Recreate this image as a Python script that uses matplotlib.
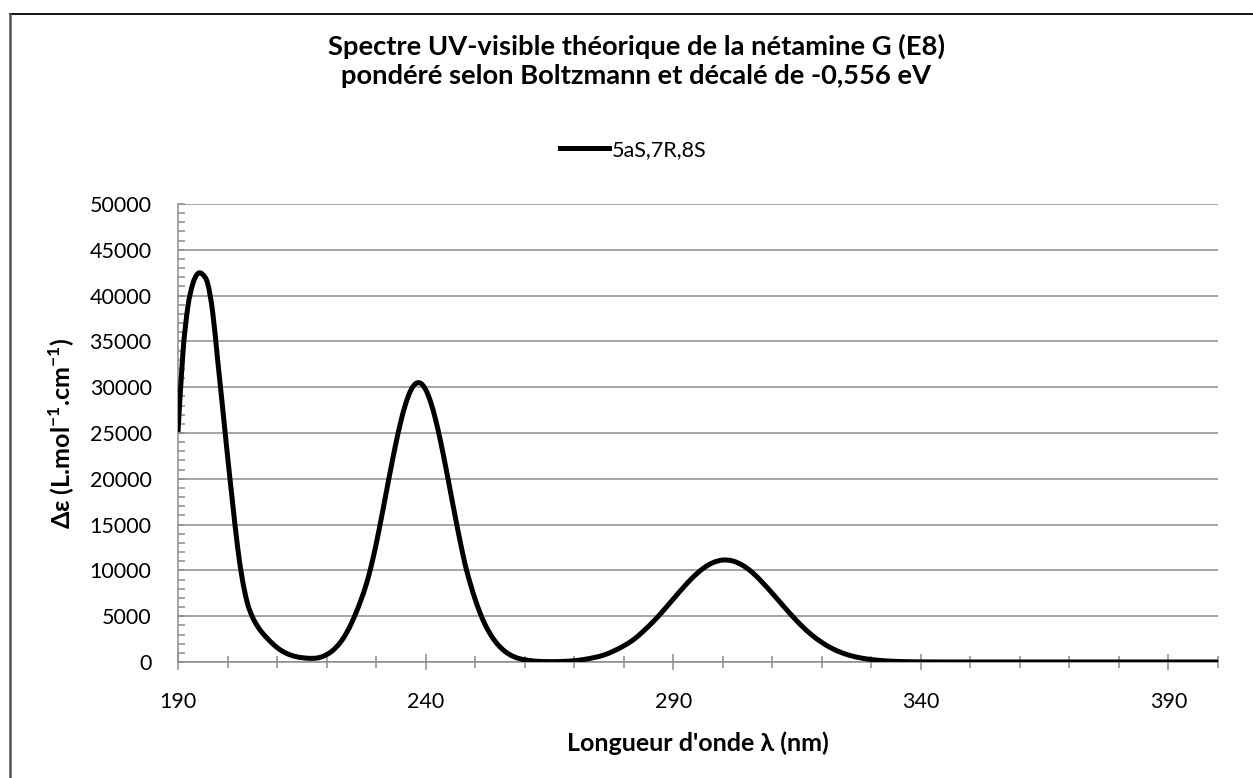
import matplotlib
matplotlib.use("Agg")
import matplotlib.pyplot as plt
from matplotlib.lines import Line2D
from matplotlib.path import Path
from matplotlib.patches import PathPatch
from matplotlib.ticker import MultipleLocator, FixedLocator

plt.rcParams['font.family'] = ['Lato', 'DejaVu Sans']
plt.rcParams['mathtext.fontset'] = 'custom'
plt.rcParams['mathtext.rm'] = 'Lato'
plt.rcParams['mathtext.bf'] = 'Lato:bold'

# Boltzmann-weighted theoretical spectrum, conformer 5aS,7R,8S
wavelength_nm = [
    190, 191, 192, 193, 194, 195, 196, 197, 198, 199,
    200, 201, 202, 203, 204, 205, 206, 207, 208, 209,
    210, 211, 212, 213, 214, 215, 216, 217, 218, 219,
    220, 221, 222, 223, 224, 225, 226, 227, 228, 229,
    230, 231, 232, 233, 234, 235, 236, 237, 238, 239,
    240, 241, 242, 243, 244, 245, 246, 247, 248, 249,
    250, 251, 252, 253, 254, 255, 256, 257, 258, 259,
    260, 262, 264, 266, 268, 270, 272, 274, 276, 278,
    280, 282, 284, 286, 288, 290, 292, 294, 296, 298,
    300, 302, 304, 306, 308, 310, 312, 314, 316, 318,
    320, 322, 324, 326, 328, 330, 332, 334, 336, 338,
    340, 345, 350, 370, 400,
]
delta_epsilon = [
    25100, 33800, 38800, 41300, 42400, 42300, 41300, 38200, 33000, 27800,
    22500, 17500, 12700, 9000, 6450, 4950, 3950, 3200, 2600, 2050,
    1580, 1200, 920, 710, 565, 475, 420, 400, 430, 560,
    800, 1150, 1650, 2300, 3150, 4200, 5450, 6850, 8450, 10450,
    12850, 15540, 18360, 21180, 23870, 26270, 28240, 29650, 30390, 30430,
    29750, 28400, 26490, 24130, 21460, 18640, 15810, 13100, 10600, 8600,
    6850, 5350, 4100, 3100, 2290, 1660, 1170, 800, 540, 360,
    240, 100, 50, 40, 70, 140, 280, 480, 760, 1210,
    1760, 2450, 3380, 4430, 5610, 6870, 8110, 9260, 10200, 10840,
    11130, 11030, 10560, 9760, 8690, 7500, 6260, 5040, 3910, 2940,
    2140, 1500, 1020, 670, 430, 270, 160, 90, 50, 28,
    15, 3, 0, 0, 0,
]
series_label = "5aS,7R,8S"

x_major = [190, 240, 290, 340, 390]
y_major = list(range(0, 50001, 5000))


def smoothed_path(xs, ys):
    """Catmull-Rom style smoothed line through the points, as cubic Bezier segments."""
    pts = list(zip(xs, ys))
    n = len(pts)
    verts = [pts[0]]
    codes = [Path.MOVETO]
    for i in range(n - 1):
        p0 = pts[i - 1] if i > 0 else pts[i]
        p1 = pts[i]
        p2 = pts[i + 1]
        p3 = pts[i + 2] if i + 2 < n else pts[i + 1]
        c1 = (p1[0] + (p2[0] - p0[0]) / 6, p1[1] + (p2[1] - p0[1]) / 6)
        c2 = (p2[0] - (p3[0] - p1[0]) / 6, p2[1] - (p3[1] - p1[1]) / 6)
        verts += [c1, c2, p2]
        codes += [Path.CURVE4] * 3
    return Path(verts, codes)


W, H = 1253, 778
fig = plt.figure(figsize=(W / 100, H / 100), dpi=100)
fig.patch.set_facecolor('white')

ax = fig.add_axes([178 / W, 1 - 662 / H, (1218 - 178) / W, (662 - 204) / H])
curve = PathPatch(smoothed_path(wavelength_nm, delta_epsilon), fill=False,
                  edgecolor='black', lw=3.6, joinstyle='round', capstyle='butt',
                  zorder=3)
ax.add_patch(curve)
legend_handle = Line2D([], [], color='black', lw=3.6, label=series_label)

ax.set_xlim(190, 400)
ax.set_ylim(0, 50000)

grid_c = '#8c8c8c'
ax.xaxis.set_major_locator(FixedLocator(x_major))
ax.xaxis.set_minor_locator(MultipleLocator(10))
ax.yaxis.set_major_locator(FixedLocator(y_major))
ax.yaxis.set_minor_locator(MultipleLocator(1000))
ax.yaxis.grid(True, which='major', color=grid_c, lw=1.1)
ax.set_axisbelow(True)

for side in ('top', 'right'):
    ax.spines[side].set_visible(False)
for side in ('left', 'bottom'):
    ax.spines[side].set_color(grid_c)
    ax.spines[side].set_linewidth(1.1)

ax.tick_params(axis='x', which='major', direction='inout', length=11,
               width=1.1, color=grid_c, labelsize=15.5, pad=16)
ax.tick_params(axis='x', which='minor', direction='inout', length=9,
               width=1.1, color=grid_c)
ax.tick_params(axis='y', which='major', direction='in', length=5,
               width=1.1, color=grid_c, labelsize=15.5, pad=19)
ax.tick_params(axis='y', which='minor', direction='in', length=5,
               width=1.1, color=grid_c)
ax.set_xticklabels([str(v) for v in x_major])
ax.set_yticklabels([str(v) for v in y_major])

fig.text(698 / W, 1 - 743 / H, "Longueur d'onde λ (nm)", ha='center', va='center',
         fontsize=18, fontweight='bold')
fig.text(62 / W, 1 - 433 / H, r"Δε (L.mol$^{\mathbf{-1}}$.cm$^{\mathbf{-1}}$)",
         rotation=90, ha='center', va='center', fontsize=18, fontweight='bold')

fig.text(636 / W, 1 - 61 / H,
         "Spectre UV-visible théorique de la nétamine G (E8)\n"
         "pondéré selon Boltzmann et décalé de -0,556 eV",
         ha='center', va='center', fontsize=19.7, fontweight='bold',
         linespacing=1.25)

fig.legend(handles=[legend_handle], loc='center',
           bbox_to_anchor=(633 / W, 1 - 150 / H),
           frameon=False, fontsize=15.5, handlelength=2.3, handletextpad=0.1,
           borderpad=0)

# chart-area border (top and left edges)
fig.add_artist(Line2D([10 / W, 1], [1 - 13.5 / H, 1 - 13.5 / H],
                      transform=fig.transFigure, color='black', lw=1.3))
fig.add_artist(Line2D([10 / W, 10 / W], [0, 1 - 13.5 / H],
                      transform=fig.transFigure, color='#555555', lw=1.8))

fig.savefig('out.png', dpi=100, facecolor='white')
